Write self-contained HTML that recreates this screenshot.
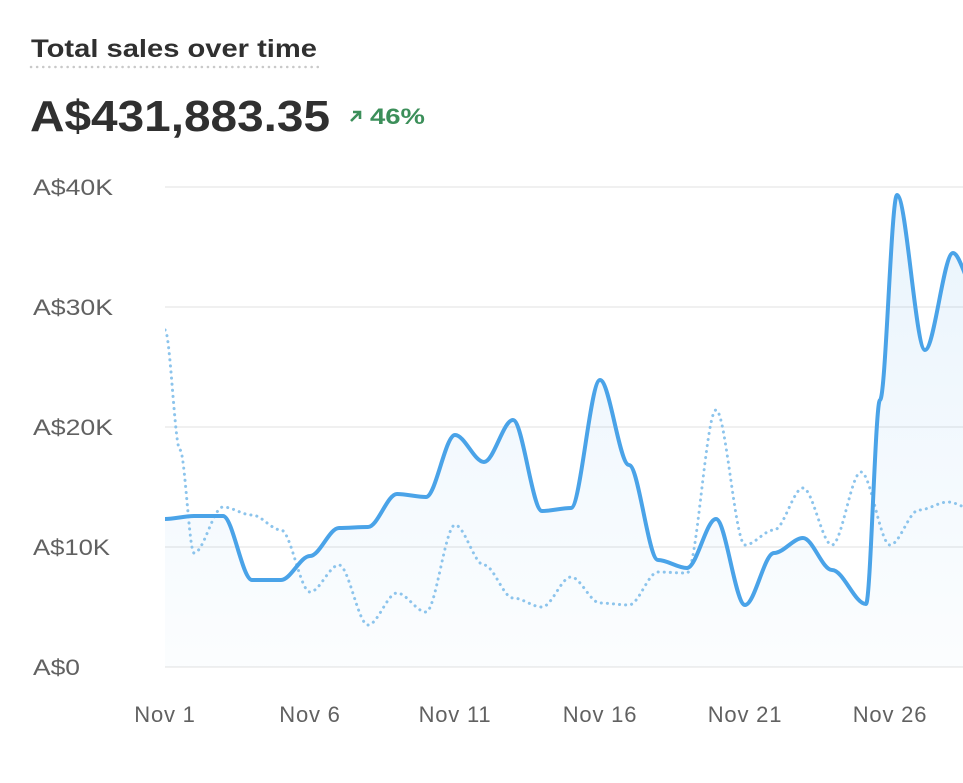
<!DOCTYPE html>
<html><head><meta charset="utf-8"><style>
html,body{margin:0;padding:0;background:#fff;width:963px;height:783px;overflow:hidden;font-family:"Liberation Sans",sans-serif;}
svg{position:absolute;left:0;top:0}
</style></head><body>
<svg id="s" width="963" height="783" viewBox="0 0 963 783">
<defs>
<linearGradient id="g" x1="0" y1="0" x2="0" y2="1">
<stop offset="0" stop-color="#4aa3e8" stop-opacity="0.12"/>
<stop offset="1" stop-color="#4aa3e8" stop-opacity="0.02"/>
</linearGradient>
<clipPath id="c"><rect x="165" y="150" width="798" height="520"/></clipPath>
</defs>
<text x="31" y="57" font-size="25" font-weight="bold" fill="#303030" textLength="286" lengthAdjust="spacingAndGlyphs">Total sales over time</text>
<line x1="31" y1="67" x2="318" y2="67" stroke="#c9c9c9" stroke-width="2.5" stroke-dasharray="0.1 6" stroke-linecap="round"/>
<text x="30" y="131" font-size="44" font-weight="bold" fill="#303030" textLength="300" lengthAdjust="spacingAndGlyphs">A$431,883.35</text>
<path d="M351 121 L360 112 M353 112 L360 112 L360 119" stroke="#3c8f5a" stroke-width="2.6" fill="none"/>
<text x="370" y="124" font-size="22" font-weight="bold" fill="#3c8f5a" textLength="55" lengthAdjust="spacingAndGlyphs">46%</text>
<g stroke="#e6e6e6" stroke-width="1.2">
<line x1="165" y1="187" x2="963" y2="187"/><line x1="165" y1="307" x2="963" y2="307"/>
<line x1="165" y1="427" x2="963" y2="427"/><line x1="165" y1="547" x2="963" y2="547"/>
<line x1="165" y1="667" x2="963" y2="667"/>
</g>
<g font-size="22" fill="#616161">
<text x="33" y="195" textLength="80" lengthAdjust="spacingAndGlyphs">A$40K</text>
<text x="33" y="315" textLength="80" lengthAdjust="spacingAndGlyphs">A$30K</text>
<text x="33" y="435" textLength="80" lengthAdjust="spacingAndGlyphs">A$20K</text>
<text x="33" y="555" textLength="77" lengthAdjust="spacingAndGlyphs">A$10K</text>
<text x="33" y="675" textLength="47" lengthAdjust="spacingAndGlyphs">A$0</text>
</g>
<g font-size="22" fill="#616161" text-anchor="middle" letter-spacing="0.8">
<text x="165" y="722">Nov 1</text><text x="310" y="722">Nov 6</text><text x="455" y="722">Nov 11</text>
<text x="600" y="722">Nov 16</text><text x="745" y="722">Nov 21</text><text x="890" y="722">Nov 26</text>
</g>
<g clip-path="url(#c)">
<path id="fill" fill="url(#g)"/>
<path id="dot" fill="none" stroke="#8cc4ec" stroke-width="3" stroke-dasharray="0.1 6" stroke-linecap="round"/>
<path id="sol" fill="none" stroke="#4aa3e8" stroke-width="4" stroke-linejoin="round"/>
</g>
</svg>
<script>
function path(p){
 let d="M"+p[0][0]+" "+p[0][1];
 for(let i=0;i<p.length-1;i++){
  const a=p[i],b=p[i+1],dx=(b[0]-a[0])/3;
  d+=" C"+(a[0]+dx)+" "+a[1]+" "+(b[0]-dx)+" "+b[1]+" "+b[0]+" "+b[1];
 }
 return d;
}
const sy=[519,516,516,580,580,556,528,527,494,497,435,462,420,511,508,380,465,560,568,519,605,553,538,570,604,195,350,253];
const s=sy.map((y,i)=>[165+29*i,y]);
s[24]=[866,604];s.splice(25,0,[880,400]);s[26]=[897,195];s[27]=[925,350];s[28]=[953,253];
s.push([975,290]);
const dy=[330,553,507,515,530,592,565,625,593,612,525,565,598,607,577,603,605,572,573,410,545,530,488,545,472,545,510,502];
const d=dy.map((y,i)=>[165+29*i,y]);d.splice(1,0,[180,450]);d.push([975,510]);
const sp=path(s);
document.getElementById('sol').setAttribute('d',sp);
document.getElementById('dot').setAttribute('d',path(d));
document.getElementById('fill').setAttribute('d',sp+" L975 667 L165 667 Z");
</script>
</body></html>
